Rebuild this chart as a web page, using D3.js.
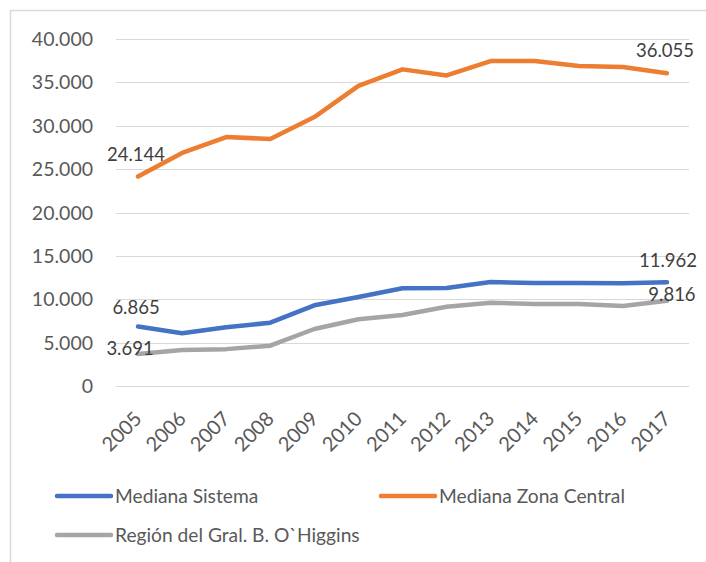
<!DOCTYPE html>
<html lang="es">
<head>
<meta charset="UTF-8">
<script src="https://cdn.jsdelivr.net/npm/d3@7"></script>
<style>
  body { margin: 0; background: #fff; font-family: Lato, "Open Sans", sans-serif; }
  svg { display: block; }
</style>
</head>
<body>
<script>
const years = ["2005","2006","2007","2008","2009","2010","2011","2012","2013","2014","2015","2016","2017"];
const medianaSistema = [6865, 6070, 6770, 7300, 9300, 10260, 11260, 11300, 11990, 11870, 11880, 11850, 11962];
const medianaZonaCentral = [24144, 26860, 28700, 28470, 31000, 34600, 36500, 35800, 37460, 37460, 36890, 36770, 36055];
const regionOHiggins = [3691, 4150, 4250, 4650, 6570, 7700, 8180, 9140, 9600, 9450, 9450, 9220, 9816];
const yTicks = [0, 5000, 10000, 15000, 20000, 25000, 30000, 35000, 40000];

const series = [
  { name: "Mediana Sistema", values: medianaSistema, color: "#4472C4" },
  { name: "Mediana Zona Central", values: medianaZonaCentral, color: "#ED7D31" },
  { name: "Región del Gral. B. O`Higgins", values: regionOHiggins, color: "#A5A5A5" }
];

const W = 706, H = 562;
const fmt = v => d3.format(",")(v).replace(/,/g, ".");

const svg = d3.select("body").append("svg").attr("width", W).attr("height", H);

// chart border (only left and top visible in the crop)
svg.append("path")
  .attr("d", `M10.5,${H} L10.5,10.5 L${W},10.5`)
  .attr("fill", "none").attr("stroke", "#d9d9d9").attr("stroke-width", 1.5);

const x = d3.scaleBand().domain(years).range([116, 689]);
const y = d3.scaleLinear().domain([0, 40000]).range([386, 39]);
const cx = d => x(d) + x.bandwidth() / 2;

// gridlines
svg.append("g").selectAll("line").data(yTicks).join("line")
  .attr("x1", 116).attr("x2", 689)
  .attr("y1", d => Math.round(y(d)) + 0.5).attr("y2", d => Math.round(y(d)) + 0.5)
  .attr("stroke", "#d9d9d9").attr("stroke-width", 1);

// y labels
svg.append("g").selectAll("text").data(yTicks).join("text")
  .attr("x", 93).attr("y", d => y(d)).attr("dy", "0.36em")
  .attr("text-anchor", "end").attr("fill", "#595959").attr("font-size", 19.5)
  .text(d => fmt(d));

// x labels
svg.append("g").selectAll("text").data(years).join("text")
  .attr("transform", d => `translate(${cx(d) + 5},${420}) rotate(-45)`)
  .attr("text-anchor", "end").attr("fill", "#595959").attr("font-size", 20)
  .text(d => d);

const line = d3.line()
  .x((d, i) => cx(years[i]))
  .y(d => y(d));

// draw order: gray, orange, blue on top
[series[2], series[1], series[0]].forEach(s => {
  svg.append("path").datum(s.values)
    .attr("d", line).attr("fill", "none")
    .attr("stroke", s.color).attr("stroke-width", 4.5)
    .attr("stroke-linejoin", "round").attr("stroke-linecap", "round");
});

// data labels (first and last points), offsets to baseline
const labelOffsets = [
  { s: 0, i: 0, dx: -2, dy: -12 },
  { s: 0, i: 12, dx: 1, dy: -15 },
  { s: 1, i: 0, dx: -2, dy: -16 },
  { s: 1, i: 12, dx: -2, dy: -16 },
  { s: 2, i: 0, dx: -8, dy: 1 },
  { s: 2, i: 12, dx: 5, dy: 0 }
];
svg.append("g").selectAll("text").data(labelOffsets).join("text")
  .attr("x", d => cx(years[d.i]) + d.dx)
  .attr("y", d => y(series[d.s].values[d.i]) + d.dy)
  .attr("text-anchor", "middle")
  .attr("fill", "#404040").attr("font-size", 18.5)
  .text(d => fmt(series[d.s].values[d.i]));

// legend
const legendPos = [
  { lx: 57, ly: 496 },
  { lx: 381, ly: 496 },
  { lx: 57, ly: 535 }
];
const lg = svg.append("g").selectAll("g").data(series).join("g")
  .attr("transform", (d, i) => `translate(${legendPos[i].lx},${legendPos[i].ly})`);
lg.append("line").attr("x1", 0).attr("x2", 54).attr("y1", 0).attr("y2", 0)
  .attr("stroke", d => d.color).attr("stroke-width", 4.5).attr("stroke-linecap", "round");
lg.append("text").attr("x", 58).attr("dy", "0.36em")
  .attr("fill", "#595959").attr("font-size", 19.2)
  .text(d => d.name);
</script>
</body>
</html>
